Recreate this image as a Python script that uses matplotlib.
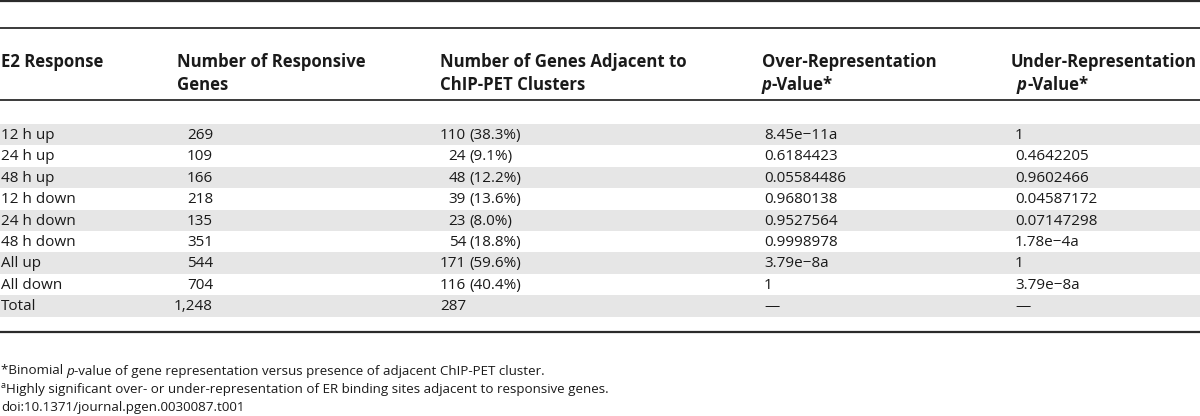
import matplotlib
matplotlib.use("Agg")
from matplotlib import pyplot as plt

plt.rcParams['font.family'] = ['Open Sans', 'DejaVu Sans']

# table data
responses = ["12 h up", "24 h up", "48 h up", "12 h down", "24 h down",
             "48 h down", "All up", "All down", "Total"]
n_responsive = [269, 109, 166, 218, 135, 351, 544, 704, 1248]
n_adjacent = [110, 24, 48, 39, 23, 54, 171, 116, 287]
pct_adjacent = [38.3, 9.1, 12.2, 13.6, 8.0, 18.8, 59.6, 40.4, None]
over_p = ["8.45e\u221211a", "0.6184423", "0.05584486", "0.9680138", "0.9527564",
          "0.9998978", "3.79e\u22128a", "1", "\u2014"]
under_p = ["1", "0.4642205", "0.9602466", "0.04587172", "0.07147298",
           "1.78e\u22124a", "1", "3.79e\u22128a", "\u2014"]

footnote_1 = ["*Binomial ", "p", "-value of gene representation versus presence of adjacent ChIP-PET cluster."]
footnote_2 = "Highly significant over- or under-representation of ER binding sites adjacent to responsive genes."
doi = "doi:10.1371/journal.pgen.0030087.t001"

W, H = 1200, 416
fig = plt.figure(figsize=(W / 100, H / 100), dpi=100)
ax = fig.add_axes([0, 0, 1, 1])
ax.set_xlim(0, W)
ax.set_ylim(H, 0)
ax.axis("off")

txt = "#1a1a1a"
body = 11.0
head = 12.1
foot = 9.6

# rules
for y, lw in [(1, 1.6), (28, 1.3), (100, 1.3), (332, 1.6)]:
    ax.axhline(y, color="#2b2b2b", lw=lw)

# header
h1, h2 = 62, 85
def hdr(x, y, s, **kw):
    return ax.text(x, y, s, fontsize=head, fontweight="bold", color=txt,
                   va="center", ha="left", **kw)

def pvalue_hdr(x, y):
    p = ax.text(x, y, "p", fontsize=head, fontweight="bold", style="italic",
                color=txt, va="center", ha="left")
    ax.annotate("-Value*", xy=(1, 0), xycoords=p, fontsize=head,
                fontweight="bold", color=txt, va="bottom", ha="left")

hdr(1, h1, "E2 Response")
hdr(177, h1, "Number of Responsive")
hdr(177, h2, "Genes")
hdr(440, h1, "Number of Genes Adjacent to")
hdr(440, h2, "ChIP-PET Clusters")
hdr(762, h1, "Over-Representation")
pvalue_hdr(762, h2)
hdr(1011, h1, "Under-Representation")
pvalue_hdr(1017, h2)

# body rows
top = 124
row_h = 21.4
for i in range(len(responses)):
    y0 = top + i * row_h
    yc = y0 + row_h / 2 + 0.8
    if i % 2 == 0:
        ax.axhspan(y0, y0 + row_h, color="#e6e6e6", lw=0, zorder=0)
    ax.text(1, yc, responses[i], fontsize=body, color=txt, va="center")
    ax.text(213, yc, "{:,}".format(n_responsive[i]), fontsize=body,
            color=txt, va="center", ha="right")
    ax.text(466, yc, str(n_adjacent[i]), fontsize=body, color=txt,
            va="center", ha="right")
    if pct_adjacent[i] is not None:
        ax.text(469, yc, "({:.1f}%)".format(pct_adjacent[i]), fontsize=body,
                color=txt, va="center", ha="left")
    ax.text(764, yc, over_p[i], fontsize=body, color=txt, va="center")
    ax.text(1015, yc, under_p[i], fontsize=body, color=txt, va="center")

# footnotes
t = ax.text(1, 371, footnote_1[0], fontsize=foot, color=txt, va="center")
t = ax.annotate(footnote_1[1], xy=(1, 0), xycoords=t, fontsize=foot,
                style="italic", color=txt, va="bottom", ha="left")
ax.annotate(footnote_1[2], xy=(1, 0), xycoords=t, fontsize=foot,
            color=txt, va="bottom", ha="left")
ax.text(1, 385, "a", fontsize=6.5, color=txt, va="center")
ax.text(6, 389, footnote_2, fontsize=foot, color=txt, va="center")
ax.text(1, 407, doi, fontsize=foot, color=txt, va="center")

fig.savefig("out.png", dpi=100)
